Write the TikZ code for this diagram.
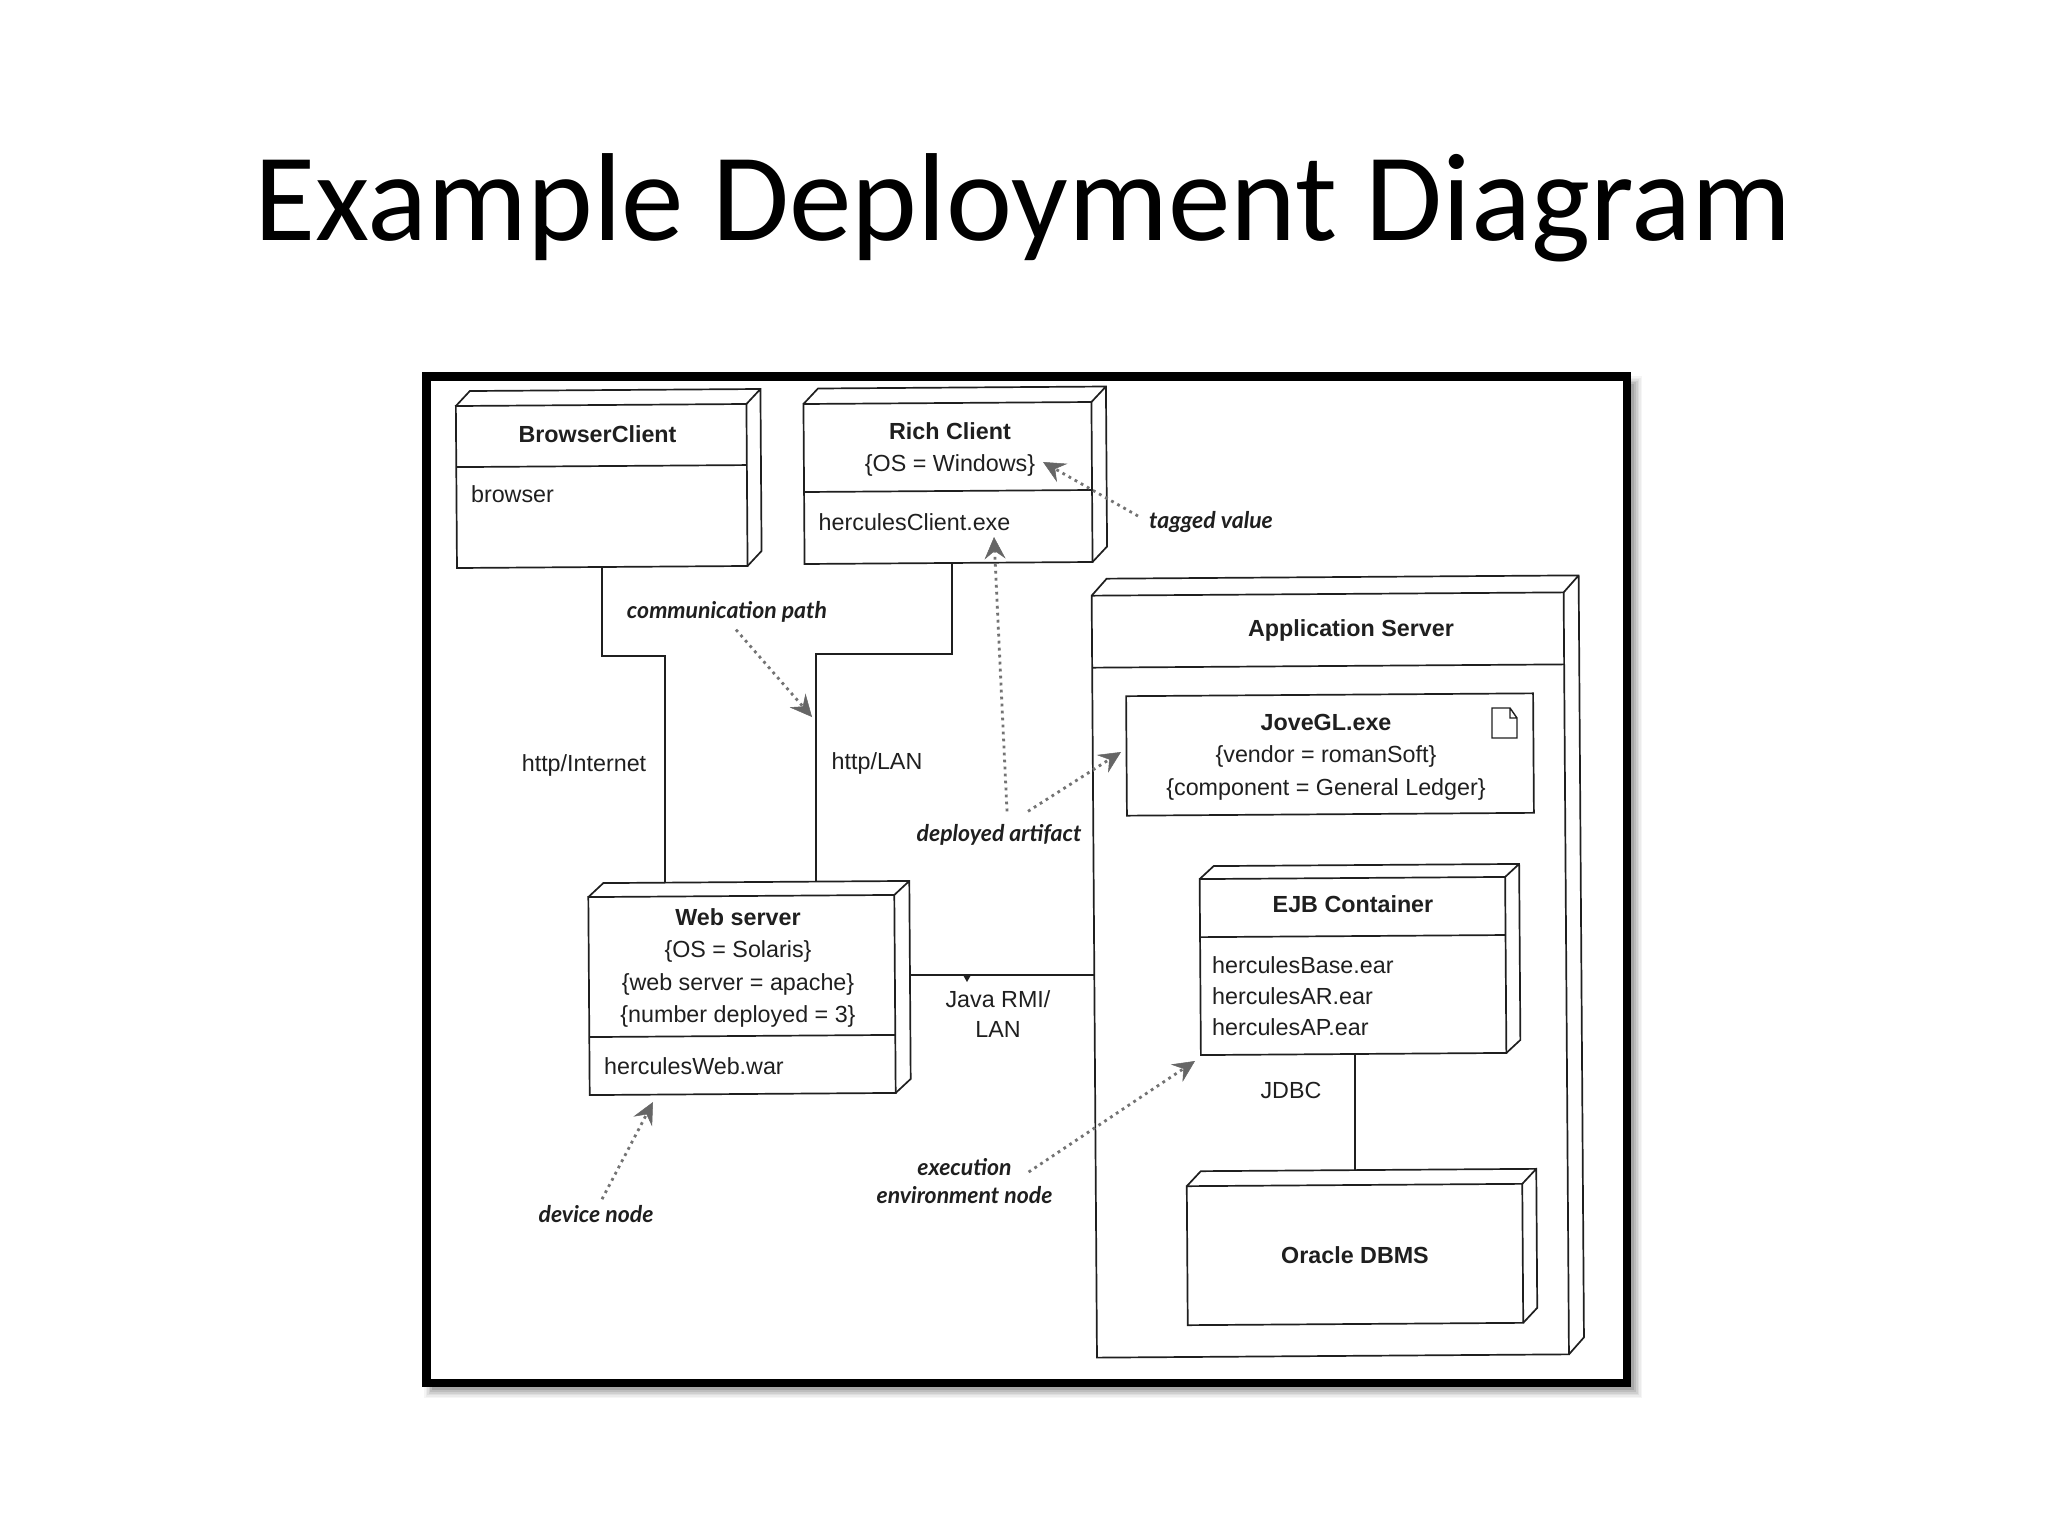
\documentclass[tikz,border=0pt]{standalone}
\usepackage{fontspec}
\setmainfont{Liberation Sans}
\newfontfamily\titlefont{Carlito}
\newfontfamily\handfont{Lato}
\usetikzlibrary{calc,arrows.meta}
\definecolor{ink}{gray}{0.12}
\tikzset{
  edge/.style={draw=ink,line width=1.7pt},
  devbox/.style={edge,rectangle,inner sep=0pt,outer sep=0pt,rotate=0.4},
  body/.style={text=ink,inner sep=0pt,align=center,font=\fontsize{23.3}{32.3}\selectfont},
  bodyleft/.style={body,align=left},
  hand/.style={text=ink,inner sep=0pt,align=center,font=\handfont\itshape\bfseries\fontsize{23}{28}\selectfont},
  note/.style={draw=black!55,line width=2.8pt,dash pattern=on 2.8pt off 4.2pt,
    -{Stealth[length=22pt,width=21pt,inset=8pt,color=black!60,line width=.5pt]}},
}
\newcommand\devdepth[3]{\draw[edge] (#1.north west) -- ++(#2,-#3) -- ($(#1.north east)+(#2,-#3)$) -- ($(#1.south east)+(#2,-#3)$) -- (#1.south east) (#1.north east) -- ++(#2,-#3);}
\newcommand\devdiv[2]{\draw[edge] ($(#1.north west)!#2!(#1.south west)$) -- ($(#1.north east)!#2!(#1.south east)$);}
\begin{document}
\begin{tikzpicture}[x=1pt,y=-1pt]
\useasboundingbox (0,0) rectangle (2048,1536);
\fill[white] (0,0) rectangle (2048,1536);
\node[font=\titlefont\fontsize{125.2}{150}\selectfont,text=black,inner sep=0pt] (title) at (1023,208) {Example Deployment Diagram};
% shadow of the frame
\foreach \d/\c in {8/4,6.5/8,5/13,3.5/19,2/26,0/34}{
  \fill[black!\c] (432-\d,384-\d) rectangle (1634+\d,1390+\d);
}
\node[draw=black,fill=white,line width=8.5pt,rectangle,inner sep=0pt,outer sep=0pt,minimum width=1200.5pt,minimum height=1006.3pt] (frame) at (1026.75,879.85) {};
% devices
\node[devbox,minimum width=290.6pt,minimum height=162pt] (browser) at (601.7,486) {};
\devdepth{browser}{14}{15}\devdiv{browser}{0.377}
\node[devbox,minimum width=288pt,minimum height=160pt] (rich) at (948,483) {};
\devdepth{rich}{14.5}{15.5}\devdiv{rich}{0.55}
\node[devbox,minimum width=472pt,minimum height=762pt] (app) at (1330.3,975) {};
\devdepth{app}{15}{17}\devdiv{app}{0.0945}
\node[devbox,minimum width=407pt,minimum height=119.5pt] (jove) at (1330,754.5) {};
\node[devbox,minimum width=306pt,minimum height=198pt] (web) at (742,995) {};
\devdepth{web}{15}{14}\devdiv{web}{0.707}
\node[devbox,minimum width=305.5pt,minimum height=176pt] (ejb) at (1353,966) {};
\devdepth{ejb}{14}{13}\devdiv{ejb}{0.33}
\node[devbox,minimum width=335.5pt,minimum height=139pt] (oracle) at (1355,1254.5) {};
\devdepth{oracle}{14}{15}
% artifact icon
\draw[line width=1.4pt,draw=ink] (1492,708) -- (1510,708) -- (1517,718) -- (1517,738) -- (1492,738) -- cycle (1510,708) -- (1510,718) -- (1517,718);
% connectors
\coordinate (bendA) at (665,656);
\coordinate (bendB) at (816,654);
\coordinate (richOut) at ($(rich.south)+(3.5,0)$);
\coordinate (webTop) at ($(web.north)+(15,-14)$);
\coordinate (javaOut) at (911,975);
\coordinate (ejbOut) at ($(ejb.south)+(1.5,0)$);
\coordinate (oracleTop) at ($(oracle.north)+(0,-14)$);
\draw[edge] (browser.south) |- (bendA) -- (bendA |- webTop);
\draw[edge] (richOut) |- (bendB) -- (bendB |- webTop);
\draw[edge] (javaOut) -- (javaOut -| app.west);
\fill[ink] (963,975) -- (971,975) -- (967,982) -- cycle;
\draw[edge] (ejbOut) -- (ejbOut |- oracleTop);
% texts in devices
\node[body,font=\bfseries\fontsize{23.3}{32.3}\selectfont] (tbrowser) at (597.5,434) {BrowserClient};
\node[body] (tbrowserb) at (512.5,494) {browser};
\node[body] (trich) at (950,449.5) {\textbf{Rich Client}\\\{OS = Windows\}};
\node[body,anchor=west] (trichb) at (818.5,522) {herculesClient.exe};
\node[body,font=\bfseries\fontsize{23.3}{32.3}\selectfont] (tapp) at (1351,630) {Application Server};
\node[body] (tjove) at (1326,757) {\textbf{JoveGL.exe}\\\{vendor = romanSoft\}\\\{component = General Ledger\}};
\node[body] (tweb) at (738,968) {\textbf{Web server}\\\{OS = Solaris\}\\\{web server = apache\}\\\{number deployed = 3\}};
\node[body,anchor=west] (twebb) at (604,1066) {herculesWeb.war};
\node[body,font=\bfseries\fontsize{23.3}{32.3}\selectfont] (tejb) at (1353,904) {EJB Container};
\node[bodyleft,anchor=west,font=\fontsize{23.3}{31}\selectfont] (tejbb) at (1212,996) {herculesBase.ear\\herculesAR.ear\\herculesAP.ear};
\node[body,font=\bfseries\fontsize{23.3}{32.3}\selectfont] (toracle) at (1355,1255) {Oracle DBMS};
% connector labels
\node[body] (lhttp) at (584,765) {http/Internet};
\node[body] (llan) at (877,763) {http/LAN};
\node[body,font=\fontsize{23.3}{30}\selectfont] (ljava) at (998,1014) {Java RMI/\\LAN};
\node[body] (ljdbc) at (1291,1090) {JDBC};
% annotations
\node[hand] (lcomm) at (727,612) {communication path};
\node[hand] (lartifact) at (999,835) {deployed artifact};
\node[hand] (ltag) at (1211,522) {tagged value};
\node[hand] (ldevice) at (596,1214) {device node};
\node[hand] (lexec) at (964.5,1181) {execution\\environment node};
\coordinate (tipComm) at (812,717);
\coordinate (tipRich) at (994,537);
\coordinate (tipJove) at (1121,752);
\coordinate (tipTag) at (1043,462);
\coordinate (tipWeb) at (653,1102);
\coordinate (tipEjb) at (1195,1061);
\draw[note] ($(lcomm.south)+(9,7)$) -- (tipComm);
\draw[note] ($(lartifact.north)+(8,-13)$) -- (tipRich);
\draw[note] ($(lartifact.north)+(29,-13)$) -- (tipJove);
\draw[note] ($(ltag.west)+(-11,-6)$) -- (tipTag);
\draw[note] ($(ldevice.north)+(6,-6)$) -- (tipWeb);
\draw[note] ($(lexec.east)+(-24,-9)$) -- (tipEjb);
\end{tikzpicture}
\end{document}
